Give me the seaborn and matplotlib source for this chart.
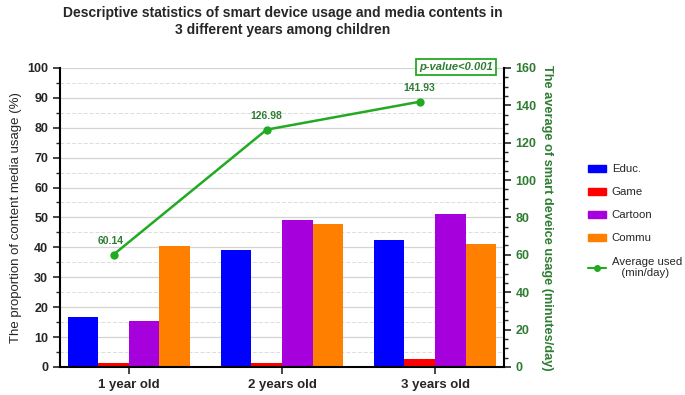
import numpy as np
import pandas as pd
import seaborn as sns
import matplotlib.pyplot as plt
from matplotlib.lines import Line2D
from matplotlib.ticker import MultipleLocator

ages = ['1 year old', '2 years old', '3 years old']
contents = ['Educ.', 'Game', 'Cartoon', 'Commu']
educ = [16.7, 39.1, 42.3]
game = [1.3, 1.2, 2.8]
cartoon = [15.3, 49.1, 51.2]
commu = [40.5, 47.8, 41.0]
avg_used = [60.14, 126.98, 141.93]
colors = ['#0000FF', '#FF0000', '#A600DD', '#FF8000']

sns.set_style('white')
plt.rcParams['font.family'] = ['Liberation Sans', 'DejaVu Sans']

df = pd.DataFrame({
    'age': ages * 4,
    'content': [c for c in contents for _ in ages],
    'pct': educ + game + cartoon + commu,
})

fig = plt.figure(figsize=(6.85, 3.95), dpi=100)
ax = fig.add_axes([0.0876, 0.071, 0.648, 0.757])

sns.barplot(data=df, x='age', y='pct', hue='content', palette=colors,
            width=0.8, saturation=1, edgecolor='none', ax=ax)
ax.legend_.remove()
ax.set_xlim(-0.45, 2.45)
ax.set_ylim(0, 100)
ax.yaxis.set_major_locator(MultipleLocator(10))
ax.yaxis.set_minor_locator(MultipleLocator(5))
ax.grid(axis='y', which='major', color='#d4d4d4', lw=0.9)
ax.grid(axis='y', which='minor', color='#dcdcdc', lw=0.7, ls=(0, (4, 2)))
ax.set_axisbelow(True)
ax.set_xlabel('')
ax.set_ylabel('The proportion of content media usage (%)', fontsize=9.5)
ax.tick_params(axis='y', which='major', direction='out', length=5, width=1.2,
               labelsize=9, left=True)
ax.tick_params(axis='y', which='minor', direction='out', length=3, width=1, left=True)
ax.tick_params(axis='x', direction='out', length=5, width=1.2, labelsize=9.5, bottom=True)
for lab in ax.get_xticklabels() + ax.get_yticklabels():
    lab.set_fontweight('bold')
for s in ['left', 'bottom']:
    ax.spines[s].set_linewidth(1.5)
    ax.spines[s].set_color('black')
ax.spines['top'].set_visible(False)
ax.spines['right'].set_visible(False)

ax2 = ax.twinx()
xs = np.arange(len(ages)) - 0.1
sns.lineplot(x=xs, y=avg_used, color='#22AA22', marker='o', markersize=6,
             markeredgewidth=0, lw=1.8, ax=ax2)
for x, v in zip(xs, avg_used):
    ax2.annotate(f'{v:.2f}', (x, v), xytext=(-2 if v < 100 else 0, 6),
                 textcoords='offset points', ha='center', va='bottom',
                 fontsize=7.5, fontweight='bold', color='#2E7D32')
ax2.set_ylim(0, 160)
ax2.yaxis.set_major_locator(MultipleLocator(20))
ax2.yaxis.set_minor_locator(MultipleLocator(5))
ax2.tick_params(axis='y', which='major', direction='out', length=5, width=1.2,
                labelsize=9, labelcolor='#2E7D32', right=True)
ax2.tick_params(axis='y', which='minor', direction='out', length=3, width=1, right=True)
for lab in ax2.get_yticklabels():
    lab.set_fontweight('bold')
ax2.set_ylabel('The average of smart deveice usage (minutes/day)', fontsize=9.2,
               fontweight='bold', color='#2E7D32', rotation=270, labelpad=12)
ax2.spines['right'].set_linewidth(1.5)
ax2.spines['right'].set_color('black')
for s in ['top', 'left', 'bottom']:
    ax2.spines[s].set_visible(False)

ax.text(0.892, 1.003, 'p-value<0.001', transform=ax.transAxes, ha='center',
        va='center', fontsize=8, fontweight='bold', style='italic', color='#2E7D32',
        bbox=dict(boxstyle='square,pad=0.3', fc='white', ec='#22AA22', lw=1.3))

fig.text(0.413, 0.985, 'Descriptive statistics of smart device usage and media contents in\n'
         '3 different years among children', ha='center', va='top',
         fontsize=10, fontweight='bold', linespacing=1.3)

handles = [plt.Rectangle((0, 0), 1, 1, color=c) for c in colors]
handles.append(Line2D([], [], color='#22AA22', marker='o', markersize=4, lw=1.5))
labels = contents + ['Average used\n   (min/day)']
fig.legend(handles, labels, loc='center left', bbox_to_anchor=(0.858, 0.44),
           frameon=False, fontsize=8.2, handlelength=1.6, handleheight=0.6,
           handletextpad=0.5, labelspacing=1.15, borderaxespad=0, borderpad=0)

fig.savefig('out.png', dpi=100)
